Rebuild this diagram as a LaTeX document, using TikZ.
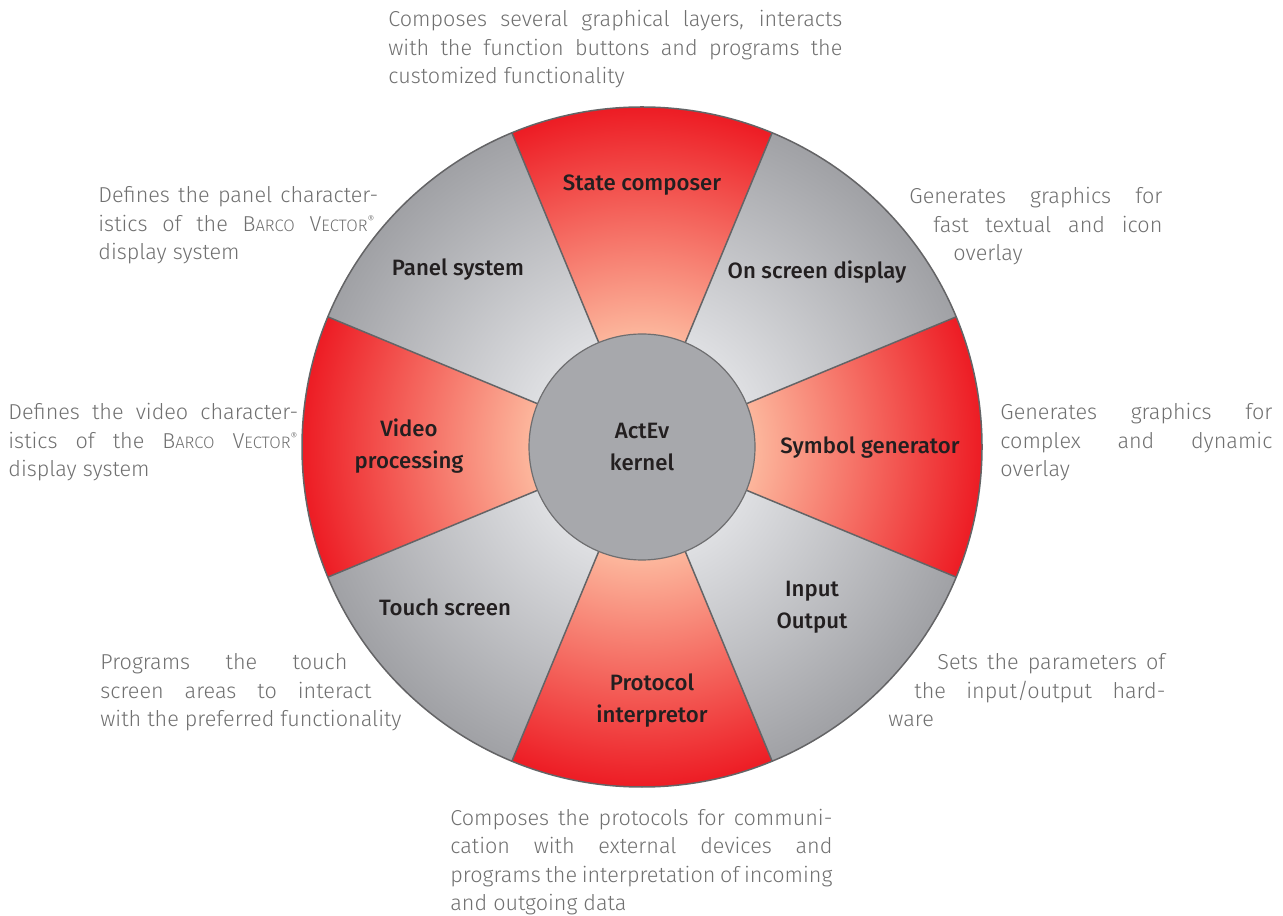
\documentclass[tikz,border=0pt]{standalone}
\usepackage{fontspec}
\setmainfont{Fira Sans}[UprightFont=* Light, BoldFont=* Medium]
\definecolor{gin}{RGB}{222,223,226}
\definecolor{gout}{RGB}{160,161,165}
\definecolor{rin}{RGB}{252,182,156}
\definecolor{rout}{RGB}{237,28,36}
\definecolor{sepcol}{RGB}{100,100,102}
\definecolor{kernfill}{RGB}{167,168,172}
\definecolor{kernline}{RGB}{110,110,112}
\definecolor{desccol}{RGB}{112,112,112}
\definecolor{labcol}{RGB}{35,31,32}
\pgfdeclareradialshading{graysh}{\pgfpoint{0bp}{0bp}}{color(0bp)=(white); color(8.3bp)=(gin); color(25bp)=(gout); color(50bp)=(gout)}
\pgfdeclareradialshading{redsh}{\pgfpoint{0bp}{0bp}}{color(0bp)=(white); color(8.3bp)=(rin); color(25bp)=(rout); color(50bp)=(rout)}
\newcommand\jline[3]{\hbox{\kern#1\makebox[#2][s]{#3}}}
\newcommand\nline[2]{\hbox{\kern#1#2}}
\newcommand\bvec{B{\fontsize{8.3}{10}\selectfont ARCO} V{\fontsize{8.3}{10}\selectfont ECTOR}\textsuperscript{\fontsize{5.3}{6}\selectfont ®}}
\tikzset{
  desc/.style={anchor=base west, inner sep=0pt, text=desccol, font=\fontsize{10.8}{14.25}\selectfont},
  lab/.style={align=center, inner sep=0pt, text=labcol, font=\bfseries\fontsize{11.1}{16}\selectfont},
  sepline/.style={draw=sepcol, line width=0.75pt},
  kern/.style={circle, draw=kernline, line width=0.6pt, fill=kernfill, minimum size=113pt, inner sep=0pt, align=center, text=labcol, font=\bfseries\fontsize{11.1}{16}\selectfont}
}
\begin{document}
\begin{tikzpicture}[x=0.5pt,y=0.5pt]
\useasboundingbox (0,0) rectangle (1283,915);
\coordinate (C) at (642,468);
% wheel
\shade[shading=graysh] (C) circle (170pt);
\foreach \a in {-22.5,67.5,157.5,247.5}{
  \begin{scope}
    \clip (C) -- ++(\a:170pt) arc[start angle=\a, end angle=\a+45, radius=170pt] -- cycle;
    \shade[shading=redsh] (C) circle (170pt);
  \end{scope}
}
\foreach \a in {22.5,67.5,112.5,157.5,202.5,247.5,292.5,337.5}{
  \draw[sepline] (C) -- ++(\a:170pt);
}
\draw[sepline] (C) circle (170pt);
\node[kern] (kernel) at (C) {ActEv\\kernel};
% sector labels
\node[lab] (state) at (642,730) {State composer};
\node[lab] (panel) at (458,645) {Panel system};
\node[lab] (osd) at (817,643) {On screen display};
\node[lab] (video) at (409,469) {Video\\processing};
\node[lab] (symbol) at (870,467) {Symbol generator};
\node[lab] (touch) at (445,308) {Touch screen};
\node[lab] (io) at (812,308) {Input\\Output};
\node[lab] (proto) at (652,214) {Protocol\\interpretor};
% descriptions
\node[desc] (dstate) at (388,888) {\vtop{\baselineskip=14.25pt
  \jline{0pt}{227pt}{Composes several graphical layers, interacts}
  \jline{0pt}{227pt}{with the function buttons and programs the}
  \nline{0pt}{customized functionality}}};
\node[desc] (dpanel) at (98,712) {\vtop{\baselineskip=14.25pt
  \jline{0pt}{140pt}{Defines the panel character-}
  \jline{0pt}{138.5pt}{istics of the \bvec}
  \nline{0pt}{display system}}};
\node[desc] (dvideo) at (8,495) {\vtop{\baselineskip=14.25pt
  \jline{0pt}{145pt}{Defines the video character-}
  \jline{0pt}{145pt}{istics of the \bvec}
  \nline{0pt}{display system}}};
\node[desc] (dosd) at (909,711) {\vtop{\baselineskip=14.25pt
  \jline{0pt}{126.5pt}{Generates graphics for}
  \jline{12pt}{114.5pt}{fast textual and icon}
  \nline{22pt}{overlay}}};
\node[desc] (dsymbol) at (1000,495) {\vtop{\baselineskip=14.25pt
  \jline{0pt}{136pt}{Generates graphics for}
  \jline{0pt}{136pt}{complex and dynamic}
  \nline{0pt}{overlay}}};
\node[desc] (dtouch) at (100,245) {\vtop{\baselineskip=14.25pt
  \jline{0pt}{123.5pt}{Programs the touch}
  \jline{0pt}{135.5pt}{screen areas to interact}
  \nline{0pt}{with the preferred functionality}}};
\node[desc] (dio) at (888,245) {\vtop{\baselineskip=14.25pt
  \jline{24.5pt}{114pt}{Sets the parameters of}
  \jline{13pt}{125.5pt}{the input/output hard-}
  \nline{0pt}{ware}}};
\node[desc] (dproto) at (450,90) {\vtop{\baselineskip=14.25pt
  \jline{0pt}{191pt}{Composes the protocols for communi-}
  \jline{0pt}{191pt}{cation with external devices and}
  \jline{0pt}{191pt}{programs the interpretation of incoming}
  \nline{0pt}{and outgoing data}}};
\end{tikzpicture}
\end{document}
